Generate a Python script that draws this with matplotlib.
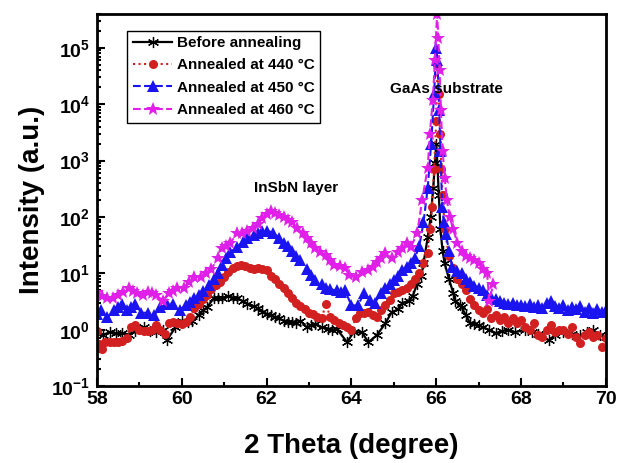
import matplotlib
matplotlib.use("Agg")
import matplotlib.pyplot as plt
from matplotlib.ticker import LogLocator, MultipleLocator, NullFormatter

plt.rcParams['font.family'] = ['Liberation Sans', 'DejaVu Sans']
plt.rcParams['font.weight'] = 'bold'
plt.rcParams['mathtext.fontset'] = 'custom'
plt.rcParams['mathtext.rm'] = 'Liberation Sans:bold'
plt.rcParams['mathtext.bf'] = 'Liberation Sans:bold'

# before annealing
x_before = [58.0, 58.15, 58.3, 58.45, 58.6, 58.75, 58.9, 59.1, 59.25, 59.4, 59.55, 59.65,
            59.85, 60.0, 60.15, 60.25, 60.4, 60.5, 60.6, 60.75, 60.85, 60.95, 61.1, 61.2,
            61.3, 61.45, 61.55, 61.7, 61.8, 61.9, 62.0, 62.1, 62.2, 62.3, 62.4, 62.5, 62.6,
            62.7, 62.8, 62.95, 63.05, 63.15, 63.3, 63.45, 63.55, 63.65, 63.9, 64.05, 64.25,
            64.4, 64.6, 64.8, 64.95, 65.1, 65.2, 65.35, 65.45, 65.55, 65.65, 65.7, 65.8,
            65.87, 65.93, 65.97, 66.0, 66.03, 66.06, 66.1, 66.15, 66.2, 66.3, 66.4, 66.45,
            66.55, 66.6, 66.7, 66.8, 66.9, 67.0, 67.1, 67.25, 67.4, 67.55, 67.7, 67.85,
            68.1, 68.25, 68.4, 68.65, 68.8, 69.0, 69.2, 69.4, 69.55, 69.7, 69.85, 70.0]
y_before = [0.9, 0.82, 0.9, 0.87, 0.87, 0.82, 0.95, 1.1, 0.95, 0.9, 1.0, 0.65,
            1.1, 1.45, 1.4, 1.45, 1.8, 2.2, 2.5, 3.6, 3.7, 3.7, 3.9, 3.7,
            3.6, 3.2, 2.9, 2.6, 2.4, 2.1, 1.9, 1.8, 1.66, 1.6, 1.45, 1.4, 1.35,
            1.3, 1.45, 1.1, 1.2, 1.25, 1.1, 1.05, 1.0, 1.05, 0.6, 0.9, 0.9,
            0.6, 0.8, 1.3, 2.05, 2.3, 3.0, 3.2, 4.0, 6.6, 9, 15, 44,
            100, 330, 900, 2000, 800, 250, 60, 25, 15, 8, 4.5, 3.3,
            2.8, 2.5, 1.8, 1.3, 1.25, 1.2, 1.1, 1.0, 0.87, 0.95, 1.0, 0.9,
            1.0, 0.9, 0.85, 0.65, 0.8, 0.9, 0.85, 0.8, 0.9, 1.0, 0.8, 0.75]

# annealed at 440 C
x_440 = [58.0, 58.05, 58.12, 58.2, 58.3, 58.4, 58.5, 58.6, 58.7, 58.8, 58.9, 59.0, 59.1,
         59.2, 59.3, 59.4, 59.5, 59.6, 59.7, 59.8, 59.9, 60.0, 60.1, 60.2, 60.3, 60.4,
         60.5, 60.6, 60.7, 60.8, 60.9, 61.0, 61.1, 61.2, 61.3, 61.4, 61.5, 61.6, 61.7,
         61.8, 61.9, 62.0, 62.1, 62.2, 62.3, 62.4, 62.5, 62.6, 62.7, 62.8, 62.9, 63.0,
         63.1, 63.2, 63.3, 63.4, 63.5, 63.6, 63.7, 63.8, 63.9, 64.0, 64.1, 64.2, 64.3,
         64.4, 64.5, 64.6, 64.7, 64.8, 64.9, 65.0, 65.1, 65.2, 65.3, 65.4, 65.5, 65.6,
         65.7, 65.8, 65.85, 65.9, 65.95, 66.0, 66.03, 66.06, 66.09, 66.12, 66.15, 66.2,
         66.3, 66.4, 66.5, 66.6, 66.7, 66.8, 66.9, 67.0, 67.1, 67.2, 67.3, 67.4, 67.5,
         67.6, 67.7, 67.8, 67.9, 68.0, 68.1, 68.2, 68.3, 68.4, 68.5, 68.6, 68.7, 68.8,
         68.9, 69.0, 69.1, 69.2, 69.3, 69.4, 69.5, 69.6, 69.7, 69.8, 69.9, 70.0]
y_440 = [0.95, 0.55, 0.45, 0.6, 0.6, 0.6, 0.6, 0.62, 0.7, 1.1, 1.2, 1.0, 0.95,
         0.95, 1.0, 1.2, 1.0, 0.85, 1.3, 1.35, 1.3, 1.25, 1.4, 1.7, 2.4, 2.9,
         3.5, 4.2, 5.2, 6.2, 7.0, 8.5, 10.5, 12.5, 13.5, 14, 13.5, 12.5, 12,
         12.5, 12, 11.5, 9, 8, 6.5, 5.6, 4.5, 3.6, 3.0, 2.6, 2.3, 2.0,
         1.9, 1.7, 1.6, 2.9, 1.7, 1.5, 1.3, 1.2, 1.1, 1.0, 1.6, 2.0, 2.0,
         2.1, 1.8, 1.65, 2.2, 2.7, 3.4, 4.4, 4.6, 5.0, 5.6, 6.5, 8, 10,
         15, 23, 60, 150, 700, 5000, 50000, 15000, 3000, 700, 250, 60,
         20, 12.6, 8, 6.6, 5, 3.5, 2.8, 2.2, 2.0, 2.3, 1.6, 1.8, 1.5,
         1.66, 1.3, 1.6, 1.3, 1.5, 1.1, 1.0, 1.3, 0.8, 0.75, 1.0, 1.2, 0.9,
         1.0, 1.0, 0.85, 1.1, 0.75, 0.58, 0.8, 0.9, 0.75, 0.8, 0.5, 0.7]

# annealed at 450 C
x_450 = [58.0, 58.1, 58.25, 58.4, 58.5, 58.6, 58.7, 58.8, 58.9, 59.05, 59.2, 59.35, 59.5,
         59.65, 59.8, 59.95, 60.1, 60.2, 60.3, 60.4, 60.5, 60.65, 60.75, 60.85, 60.95,
         61.05, 61.15, 61.3, 61.45, 61.55, 61.7, 61.8, 61.9, 62.0, 62.15, 62.3, 62.4,
         62.5, 62.6, 62.7, 62.8, 62.95, 63.05, 63.15, 63.3, 63.4, 63.5, 63.65, 63.75,
         63.85, 64.0, 64.15, 64.3, 64.45, 64.55, 64.7, 64.8, 64.9, 65.0, 65.1, 65.2,
         65.3, 65.4, 65.5, 65.6, 65.7, 65.8, 65.88, 65.95, 66.0, 66.03, 66.07,
         66.1, 66.14, 66.18, 66.23, 66.3, 66.38, 66.5, 66.6, 66.7, 66.8, 66.9, 67.0,
         67.1, 67.2, 67.3, 67.4, 67.5, 67.6, 67.7, 67.8, 67.9, 68.0, 68.1, 68.2, 68.3,
         68.4, 68.5, 68.6, 68.7, 68.8, 68.9, 69.0, 69.1, 69.2, 69.3, 69.4, 69.5, 69.6,
         69.7, 69.8, 69.9, 70.0]
y_450 = [1.9, 2.2, 1.66, 2.2, 2.5, 2.9, 2.2, 2.5, 2.9, 2.0, 2.0, 1.8, 2.5,
         2.9, 2.9, 2.2, 2.8, 3.1, 3.6, 4.1, 4.8, 6.1, 8, 10, 14,
         19, 24, 29, 36, 42, 48, 51, 57, 57, 53, 42, 35,
         30, 25, 20, 17, 12, 9.5, 7.5, 6.5, 5.6, 5.2, 5.0, 4.6,
         5.0, 2.7, 2.7, 4.4, 3.4, 3.0, 4.4, 5.6, 6.5, 7.5, 9, 11.6,
         13, 15, 19, 30, 80, 330, 2000, 15000, 100000, 60000, 8000,
         1500, 150, 80, 50, 25, 13, 11, 10, 8, 7, 6, 5.6,
         5, 4.2, 3.8, 3.5, 3.2, 3.0, 2.9, 3.0, 2.7, 2.8, 2.6, 2.9, 2.5,
         2.7, 2.4, 3.0, 3.3, 2.6, 2.4, 2.7, 2.2, 2.5, 2.3, 2.6, 2.1, 2.4,
         2.0, 2.3, 2.05, 2.2]

# annealed at 460 C
x_460 = [58.0, 58.12, 58.25, 58.38, 58.5, 58.62, 58.75, 58.85, 58.95, 59.08, 59.2, 59.3,
         59.4, 59.55, 59.7, 59.8, 59.9, 60.05, 60.18, 60.3, 60.45, 60.58, 60.7, 60.85,
         60.95, 61.05, 61.15, 61.3, 61.42, 61.55, 61.68, 61.8, 61.9, 62.0, 62.1, 62.2,
         62.3, 62.4, 62.5, 62.6, 62.72, 62.85, 62.95, 63.05, 63.15, 63.25, 63.4, 63.5,
         63.6, 63.72, 63.85, 63.95, 64.1, 64.25, 64.4, 64.5, 64.6, 64.7, 64.8, 64.95,
         65.1, 65.2, 65.3, 65.4, 65.55, 65.67, 65.8, 65.85, 65.92, 65.97, 66.02,
         66.05, 66.08, 66.11, 66.15, 66.2, 66.25, 66.32, 66.4, 66.5, 66.6, 66.7, 66.8,
         66.9, 67.0, 67.1, 67.2, 67.25, 67.35]
y_460 = [4.6, 4.0, 3.7, 3.6, 4.1, 4.6, 5.4, 4.8, 4.4, 4.2, 4.6, 4.4,
         4.1, 3.3, 4.4, 4.8, 5.4, 5.6, 7.0, 8.5, 8.5, 10, 12, 18.5,
         28, 31, 35, 51, 52, 57, 65, 76, 95, 115, 130, 120,
         110, 98, 90, 80, 65, 51, 42, 35, 28, 24, 21, 17,
         14, 13.5, 12.7, 9.2, 8.5, 10.4, 11.6, 13, 15.7, 19, 23, 18.5,
         24, 28, 34, 29, 51, 200, 750, 3000, 12000, 60000, 400000,
         150000, 40000, 8000, 1500, 500, 200, 100, 60, 35, 25, 20, 19,
         17, 15, 12, 10, 3.3, 6.6]

fig = plt.figure(figsize=(6.17, 4.63), dpi=100)
ax = fig.add_axes([0.157, 0.166, 0.825, 0.804])

ax.plot(x_before, y_before, color='black', linestyle='-', linewidth=1.6,
        marker=(6, 2, 0), markersize=8, markeredgewidth=0.9, label='Before annealing')
ax.plot(x_440, y_440, color='#d21f1f', linestyle=':', linewidth=1.5,
        marker='o', markersize=6.5, markeredgewidth=0, label='Annealed at 440 \u00b0C')
ax.plot(x_450, y_450, color='#1a14f0', linestyle='--', linewidth=1.5,
        marker='^', markersize=8, markeredgewidth=0, label='Annealed at 450 \u00b0C')
ax.plot(x_460, y_460, color='#e020e8', linestyle='--', linewidth=1.5,
        marker='*', markersize=10.5, markeredgewidth=0, label='Annealed at 460 \u00b0C')

ax.set_yscale('log')
ax.set_xlim(58, 70)
ax.set_ylim(0.1, 4e5)
ax.xaxis.set_major_locator(MultipleLocator(2))
ax.xaxis.set_minor_locator(MultipleLocator(1))
ax.yaxis.set_minor_locator(LogLocator(base=10, subs=range(2, 10), numticks=20))
ax.yaxis.set_minor_formatter(NullFormatter())
ax.set_yticks([0.1, 1, 10, 100, 1e3, 1e4, 1e5])
ax.set_yticklabels([r'$\mathbf{10^{-1}}$', r'$\mathbf{10^{0}}$', r'$\mathbf{10^{1}}$',
                    r'$\mathbf{10^{2}}$', r'$\mathbf{10^{3}}$', r'$\mathbf{10^{4}}$',
                    r'$\mathbf{10^{5}}$'])

ax.tick_params(which='both', direction='in', width=1.5, labelsize=14)
ax.tick_params(axis='y', pad=5)
ax.tick_params(which='major', length=6)
ax.tick_params(which='minor', length=3)
for s in ax.spines.values():
    s.set_linewidth(2)

ax.set_xlabel('2 Theta (degree)', fontsize=20, fontweight='bold', labelpad=18)
ax.set_ylabel('Intensity (a.u.)', fontsize=20, fontweight='bold', labelpad=4)

ax.text(62.7, 330, 'InSbN layer', fontsize=11, fontweight='bold', ha='center', va='center')
ax.text(66.24, 1.9e4, 'GaAs substrate', fontsize=11, fontweight='bold', ha='center', va='center')

leg = ax.legend(loc='upper left', bbox_to_anchor=(0.06, 0.955), fontsize=11,
                frameon=True, fancybox=False, edgecolor='black', framealpha=1,
                handlelength=2.6, numpoints=1, borderpad=0.35, labelspacing=0.55,
                handletextpad=0.3, borderaxespad=0)
leg.get_frame().set_linewidth(1)
for t in leg.get_texts():
    t.set_fontweight('bold')

fig.savefig('out.png', dpi=100)
